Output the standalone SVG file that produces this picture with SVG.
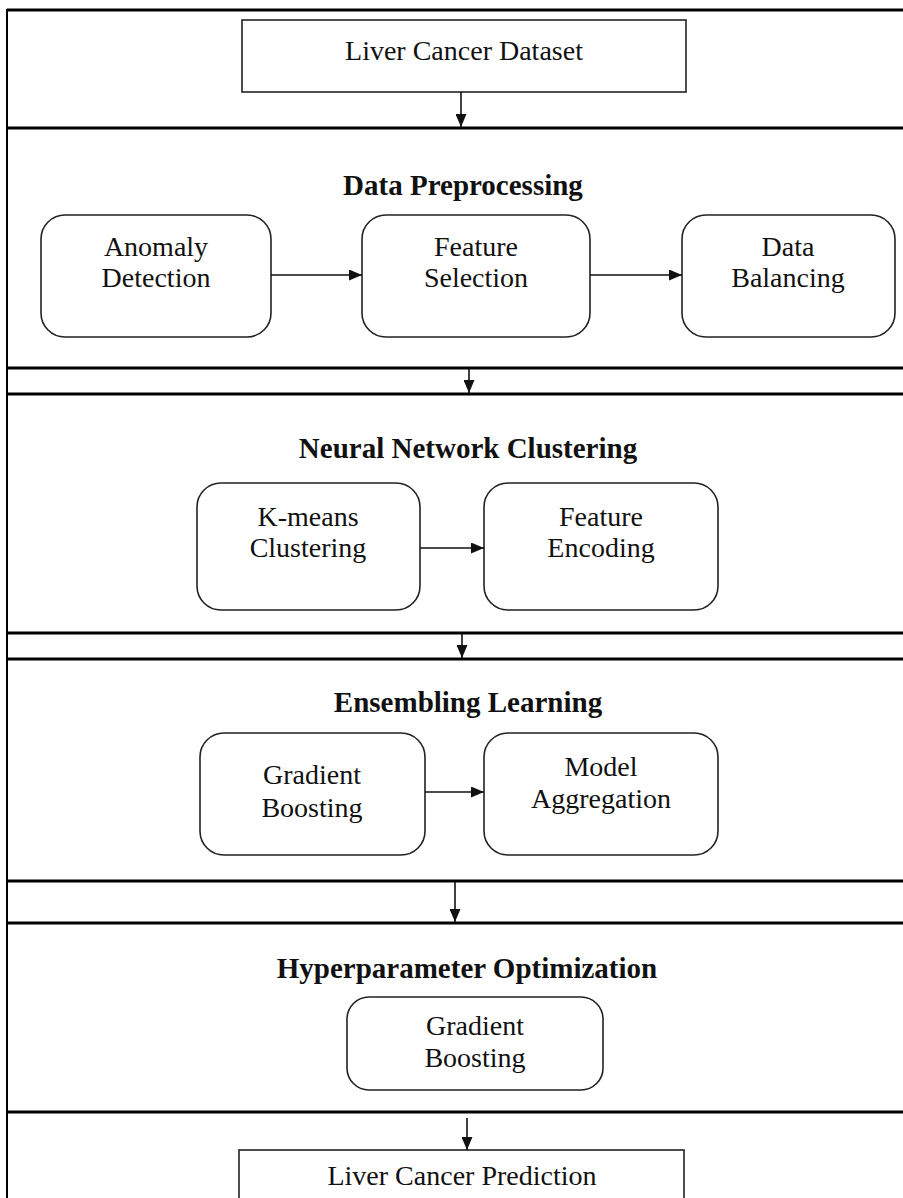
<svg xmlns="http://www.w3.org/2000/svg" width="903" height="1198" viewBox="0 0 903 1198">
  <style>
    .frame { fill: none; stroke: #000; stroke-width: 3; }
    .sep { stroke: #000; stroke-width: 3.2; }
    .box { fill: #fff; stroke: #222; stroke-width: 1.6; }
    .rbox { fill: #fff; stroke: #222; stroke-width: 1.6; }
    .txt { font-family: "Liberation Serif", "Times New Roman", serif; font-size: 28px; fill: #111; text-anchor: middle; }
    .title { font-family: "Liberation Serif", "Times New Roman", serif; font-size: 29px; font-weight: bold; fill: #111; text-anchor: middle; }
    .conn { stroke: #111; stroke-width: 1.6; fill: none; marker-end: url(#ah); }
  </style>
  <defs>
    <marker id="ah" viewBox="0 0 13 11" markerWidth="13" markerHeight="11" refX="13" refY="5.5" orient="auto" markerUnits="userSpaceOnUse">
      <path d="M0,0 L13,5.5 L0,11 z" fill="#111"/>
    </marker>
  </defs>
  <rect width="903" height="1198" fill="#fff"/>

  <!-- outer frame (open at right and bottom) -->
  <g id="frame">
    <line x1="7" y1="10" x2="903" y2="10" class="sep" stroke-width="2.5"/>
    <line x1="7" y1="9" x2="7" y2="1198" stroke="#000" stroke-width="2"/>
    <line x1="7" y1="128" x2="903" y2="128" class="sep"/>
    <line x1="7" y1="368" x2="903" y2="368" class="sep"/>
    <line x1="7" y1="394" x2="903" y2="394" class="sep"/>
    <line x1="7" y1="633" x2="903" y2="633" class="sep"/>
    <line x1="7" y1="659" x2="903" y2="659" class="sep"/>
    <line x1="7" y1="881" x2="903" y2="881" class="sep"/>
    <line x1="7" y1="923" x2="903" y2="923" class="sep"/>
    <line x1="7" y1="1112" x2="903" y2="1112" class="sep"/>
  </g>

  <!-- section titles -->
  <g id="titles">
    <text class="title" x="463" y="195">Data Preprocessing</text>
    <text class="title" x="468" y="458">Neural Network Clustering</text>
    <text class="title" x="468" y="712">Ensembling Learning</text>
    <text class="title" x="467" y="978">Hyperparameter Optimization</text>
  </g>

  <g id="node-dataset">
    <rect class="box" x="242" y="20" width="444" height="72"/>
    <text class="txt" x="464" y="60">Liver Cancer Dataset</text>
  </g>

  <g id="node-anomaly">
    <rect class="rbox" x="41" y="215" width="230" height="122" rx="24"/>
    <text class="txt" x="156" y="256">Anomaly</text>
    <text class="txt" x="156" y="287">Detection</text>
  </g>
  <g id="node-featsel">
    <rect class="rbox" x="362" y="215" width="228" height="122" rx="24"/>
    <text class="txt" x="476" y="256">Feature</text>
    <text class="txt" x="476" y="287">Selection</text>
  </g>
  <g id="node-balance">
    <rect class="rbox" x="682" y="215" width="213" height="122" rx="24"/>
    <text class="txt" x="788" y="256">Data</text>
    <text class="txt" x="788" y="287">Balancing</text>
  </g>

  <g id="node-kmeans">
    <rect class="rbox" x="197" y="483" width="223" height="127" rx="24"/>
    <text class="txt" x="308" y="526">K-means</text>
    <text class="txt" x="308" y="557">Clustering</text>
  </g>
  <g id="node-encoding">
    <rect class="rbox" x="484" y="483" width="234" height="127" rx="24"/>
    <text class="txt" x="601" y="526">Feature</text>
    <text class="txt" x="601" y="557">Encoding</text>
  </g>

  <g id="node-gb1">
    <rect class="rbox" x="200" y="733" width="225" height="122" rx="24"/>
    <text class="txt" x="312" y="784">Gradient</text>
    <text class="txt" x="312" y="817">Boosting</text>
  </g>
  <g id="node-aggregation">
    <rect class="rbox" x="484" y="733" width="234" height="122" rx="24"/>
    <text class="txt" x="601" y="776">Model</text>
    <text class="txt" x="601" y="808">Aggregation</text>
  </g>

  <g id="node-gb2">
    <rect class="rbox" x="347" y="997" width="256" height="93" rx="22"/>
    <text class="txt" x="475" y="1035">Gradient</text>
    <text class="txt" x="475" y="1067">Boosting</text>
  </g>

  <g id="node-prediction">
    <rect class="box" x="239" y="1150" width="445" height="60"/>
    <text class="txt" x="462" y="1185">Liver Cancer Prediction</text>
  </g>

  <g id="connectors">
    <line class="conn" x1="461" y1="92" x2="461" y2="127"/>
    <line class="conn" x1="271" y1="275" x2="362" y2="275"/>
    <line class="conn" x1="590" y1="275" x2="682" y2="275"/>
    <line class="conn" x1="469" y1="369" x2="469" y2="393"/>
    <line class="conn" x1="420" y1="548" x2="484" y2="548"/>
    <line class="conn" x1="462" y1="634" x2="462" y2="658"/>
    <line class="conn" x1="425" y1="792" x2="484" y2="792"/>
    <line class="conn" x1="455" y1="882" x2="455" y2="922"/>
    <line class="conn" x1="467" y1="1118" x2="467" y2="1150"/>
  </g>
</svg>
